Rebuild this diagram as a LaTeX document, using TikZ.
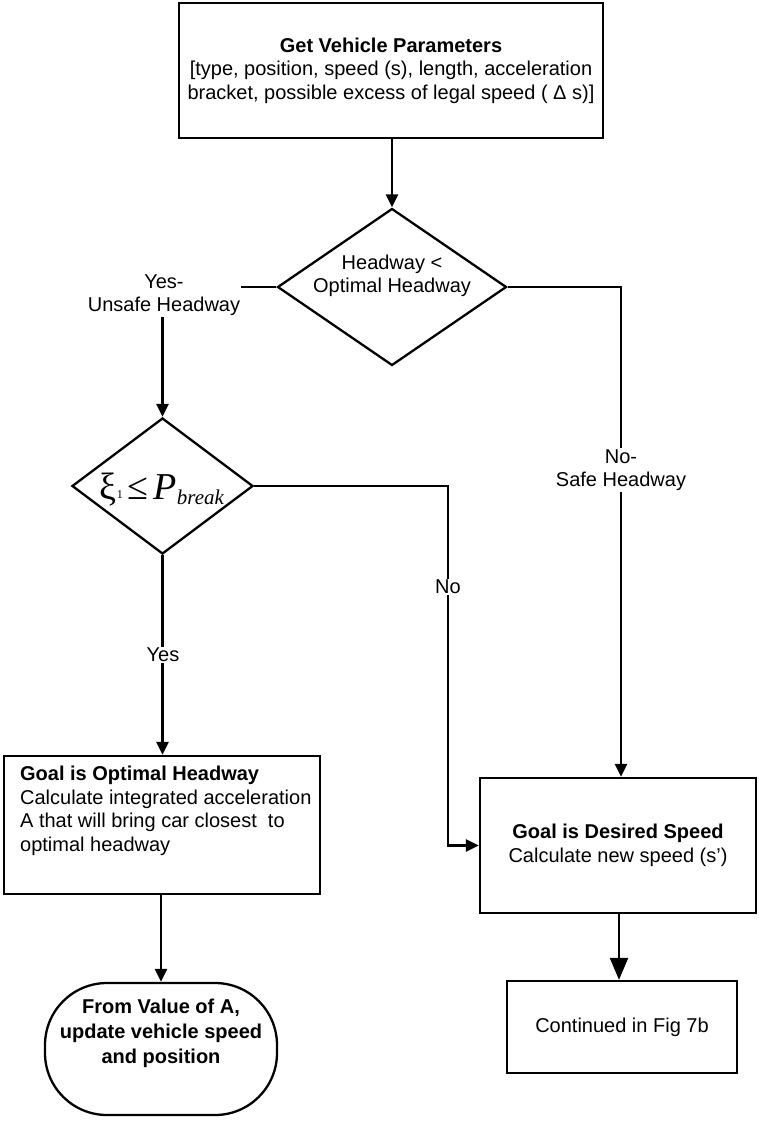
\documentclass[tikz,border=0pt]{standalone}
\usepackage{fontspec}
\setmainfont{Liberation Sans}
\newfontfamily\formfont{Liberation Serif}
\usetikzlibrary{shapes.geometric,arrows.meta}
\begin{document}
\begin{tikzpicture}[x=1pt,y=-1pt,
  font=\fontsize{20}{23.5}\selectfont, line width=2.3pt,
  box/.style={draw, rectangle, inner sep=0pt, align=center},
  dia/.style={draw, diamond, inner sep=0pt},
  arr/.style={-{Triangle[length=13pt,width=12pt]}},
  bigarr/.style={-{Triangle[length=22pt,width=18pt]}},
  lbl/.style={fill=white, inner sep=1pt, align=center},
  txt/.style={inner sep=0pt, align=center}]
\useasboundingbox (0,0) rectangle (758,1121);

% nodes
\node[box, minimum width=424pt, minimum height=135pt] (top) at (391,70.5)
  {\textbf{Get Vehicle Parameters}\\{[}type, position, speed (s), length, acceleration\\bracket, possible excess of legal speed ( Δ s)]};

\node[dia, minimum width=229pt, minimum height=157pt] (d1) at (392,287) {};
\node[txt] (d1t) at (392,276) {Headway <\\Optimal Headway};

\node[dia, minimum width=181pt, minimum height=136pt] (d2) at (162.5,486) {};
\node[txt, anchor=base] (d2t) at (162,499)
  {\formfont\fontsize{38}{40}\selectfont ξ\raisebox{1pt}{\fontsize{12}{12}\selectfont 1}\hspace{5pt}≤\hspace{5pt}\textit{P}\raisebox{-5pt}{\fontsize{21}{21}\selectfont\itshape break}};

\node[box, minimum width=316pt, minimum height=138pt] (lb) at (162,825) {};
\node[inner sep=0pt, anchor=north west, align=left] (lbt) at (19,765)
  {\textbf{Goal is Optimal Headway}\\Calculate integrated acceleration\\A that will bring car closest\ \ to\\optimal headway};

\node[draw, rounded corners=62pt, minimum width=232pt, minimum height=132pt] (term) at (161,1049) {};
\node[txt, font=\fontsize{20}{25}\selectfont\bfseries] (termt) at (161,1033)
  {From Value of A,\\update vehicle speed\\and position};

\node[box, minimum width=276pt, minimum height=135pt] (rb) at (618,845.5)
  {\textbf{Goal is Desired Speed}\\Calculate new speed (s')};

\node[box, minimum width=230pt, minimum height=92pt] (cb) at (622,1027) {Continued in Fig 7b};

% helper coordinates
\coordinate (c1) at (621,287);
\coordinate (c2) at (448,486);
\coordinate (c3) at (619,0);

% connectors
\draw[arr] (d1.north |- top.south) -- (d1.north);
\draw[arr] (d1.west) -| (d2.north);
\node[lbl] (l1) at (164,295) {Yes-\\Unsafe Headway};

\draw[arr] (d1.east) -- (c1) -- (c1 |- rb.north);
\node[lbl] (l2) at (621,470) {No-\\Safe Headway};

\draw[arr] (d2.east) -- (c2) -- (c2 |- rb.west) -- (rb.west);
\node[lbl] (l3) at (448,587) {No};

\draw[arr] (d2.south) -- (d2.south |- lb.north);
\node[lbl] (l4) at (163,655) {Yes};

\draw[arr] (term.north |- lb.south) -- (term.north);
\draw[bigarr] (c3 |- rb.south) -- (c3 |- cb.north);
\end{tikzpicture}
\end{document}
